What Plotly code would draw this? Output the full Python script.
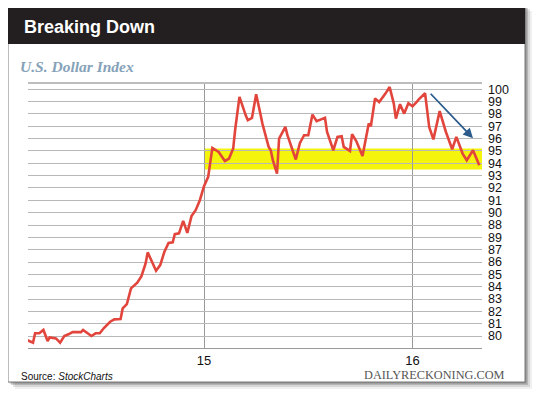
import plotly.graph_objects as go

# ---- data (decimal year, U.S. Dollar Index) ----
years = [14.15, 14.18, 14.19, 14.21, 14.23, 14.25, 14.26, 14.29, 14.31, 14.33, 14.35, 14.37,
         14.39, 14.41, 14.42, 14.44, 14.46, 14.48, 14.50, 14.52, 14.55, 14.57, 14.60, 14.61,
         14.63, 14.65, 14.68, 14.70, 14.72, 14.73, 14.75, 14.77, 14.79, 14.81, 14.83, 14.85,
         14.86, 14.88, 14.90, 14.92, 14.94, 14.96, 14.98, 15.00, 15.02, 15.04, 15.07, 15.10,
         15.12, 15.14, 15.15, 15.17, 15.20, 15.21, 15.23, 15.25, 15.27, 15.28, 15.31, 15.32,
         15.33, 15.35, 15.36, 15.39, 15.40, 15.43, 15.44, 15.46, 15.48, 15.50, 15.52, 15.54,
         15.56, 15.58, 15.59, 15.62, 15.64, 15.66, 15.67, 15.70, 15.71, 15.73, 15.75, 15.76,
         15.79, 15.80, 15.82, 15.84, 15.87, 15.89, 15.91, 15.92, 15.94, 15.96, 15.98, 16.00,
         16.02, 16.03, 16.06, 16.08, 16.10, 16.13, 16.16, 16.19, 16.21, 16.24, 16.26, 16.29,
         16.32]
dxy = [79.68, 79.46, 80.22, 80.22, 80.49, 79.60, 79.89, 79.81, 79.46, 80.00, 80.14, 80.32,
       80.32, 80.32, 80.49, 80.22, 80.00, 80.22, 80.22, 80.65, 81.16, 81.35, 81.38, 82.24,
       82.59, 83.86, 84.32, 84.86, 85.89, 86.78, 86.02, 85.29, 85.75, 86.83, 87.55, 87.59,
       88.26, 88.32, 89.34, 88.36, 89.72, 90.20, 91.01, 92.15, 92.90, 95.25, 94.92, 94.19,
       94.39, 95.20, 96.82, 99.38, 97.89, 97.49, 97.68, 99.60, 98.03, 97.22, 95.33, 95.06,
       94.25, 93.17, 96.01, 96.95, 96.28, 94.92, 94.31, 95.65, 96.28, 96.28, 97.95, 97.41,
       97.55, 97.68, 96.54, 95.06, 96.14, 96.19, 95.33, 95.00, 96.36, 95.81, 95.00, 94.60,
       97.22, 97.00, 99.25, 98.97, 99.65, 100.19, 98.84, 97.63, 98.79, 98.03, 98.87, 98.62,
       98.97, 99.19, 99.68, 96.92, 95.94, 98.23, 96.54, 95.14, 96.14, 94.79, 94.25, 95.06,
       93.85]

x_ticks = [15, 16]
x_tick_labels = ["15", "16"]
y_ticks = list(range(80, 101))
y_tick_labels = ["80", "81", "82", "83", "84", "85", "86", "87", "89", "88", "90",
                 "91", "92", "93", "94", "95", "96", "97", "98", "99", "100"]

band_low, band_high = 93.5, 95.2
band_start = 15.0
arrow_from = (16.08, 99.76)
arrow_to = (16.29, 96.03)

# ---- layout geometry (pixels in the window; page body has an 8px margin) ----
OFF = 8
W, H = 532, 389
L, R, T, B = 28 - OFF, 482 - OFF, 83 - OFF, 348 - OFF


def fx(px):
    return (px - OFF - L) / (R - L)


def fy(py):
    return (B - (py - OFF)) / (B - T)


fig = go.Figure()
fig.add_trace(go.Scatter(x=years, y=dxy, mode="lines",
                         line=dict(color="#e2453c", width=2.6),
                         hoverinfo="skip", showlegend=False))

shapes = []
# shadow
for off, op in [(7, 0.06), (5, 0.10), (3, 0.16), (1.5, 0.22)]:
    shapes.append(dict(type="rect", xref="paper", yref="paper",
                       x0=fx(8 + off), x1=fx(525 + off), y0=fy(382 + off), y1=fy(4 + off),
                       fillcolor=f"rgba(0,0,0,{op})", line=dict(width=0), layer="below"))
# frame
shapes.append(dict(type="rect", xref="paper", yref="paper",
                   x0=fx(8), x1=fx(525), y0=fy(382), y1=fy(4),
                   fillcolor="white", line=dict(color="#7a7a7a", width=1), layer="below"))
# header bar
shapes.append(dict(type="rect", xref="paper", yref="paper",
                   x0=fx(8), x1=fx(525), y0=fy(44), y1=fy(4),
                   fillcolor="#231f20", line=dict(width=0), layer="below"))
# yellow band
shapes.append(dict(type="rect", xref="x", yref="y",
                   x0=band_start, x1=16.333, y0=band_low, y1=band_high,
                   fillcolor="#f4f40c", line=dict(width=0), layer="below"))
# top border line
shapes.append(dict(type="line", xref="paper", yref="paper", x0=0, x1=1, y0=1, y1=1,
                   line=dict(color="#bdbdbd", width=2)))

annotations = [
    dict(text="<b>Breaking Down</b>", xref="paper", yref="paper", x=fx(22), y=fy(27),
         xanchor="left", yanchor="middle", showarrow=False,
         font=dict(family="Liberation Sans, Arial", size=18, color="white")),
    dict(text="<b><i>U.S. Dollar Index</i></b>", xref="paper", yref="paper", x=fx(18), y=fy(66),
         xanchor="left", yanchor="middle", showarrow=False,
         font=dict(family="Liberation Serif, Times New Roman", size=15.5, color="#86a2b9")),
    dict(text="Source: <i>StockCharts</i>", xref="paper", yref="paper", x=fx(19), y=fy(376),
         xanchor="left", yanchor="middle", showarrow=False,
         font=dict(family="Liberation Sans, Arial", size=10, color="#111111")),
    dict(text="DAILYRECKONING.COM", xref="paper", yref="paper", x=fx(507), y=fy(375),
         xanchor="right", yanchor="middle", showarrow=False,
         font=dict(family="Liberation Serif, Times New Roman", size=12.3, color="#555555")),
    dict(text="", x=arrow_to[0], y=arrow_to[1], ax=arrow_from[0], ay=arrow_from[1],
         xref="x", yref="y", axref="x", ayref="y", showarrow=True,
         arrowhead=2, arrowsize=1.1, arrowwidth=1.8, arrowcolor="#2c5b8c"),
]

fig.update_layout(
    width=W, height=H,
    margin=dict(l=L, r=W - R, t=T, b=H - B),
    paper_bgcolor="white", plot_bgcolor="rgba(0,0,0,0)",
    shapes=shapes, annotations=annotations,
    xaxis=dict(range=[14.156, 16.333], tickvals=x_ticks, ticktext=x_tick_labels,
               showgrid=True, gridcolor="#9a9a9a", gridwidth=1, zeroline=False,
               showline=True, linecolor="#9a9a9a", linewidth=1, ticks="",
               tickfont=dict(family="Liberation Sans, Arial", size=13, color="#111111"),
               fixedrange=True),
    yaxis=dict(range=[79.03, 100.51], side="right", tickvals=y_ticks, ticktext=y_tick_labels,
               showgrid=True, gridcolor="#b8b8b8", gridwidth=1, zeroline=False,
               showline=False, ticks="", ticklabelstandoff=5,
               tickfont=dict(family="Liberation Sans, Arial", size=12.5, color="#111111"),
               fixedrange=True),
)

fig.write_html("out.html")
